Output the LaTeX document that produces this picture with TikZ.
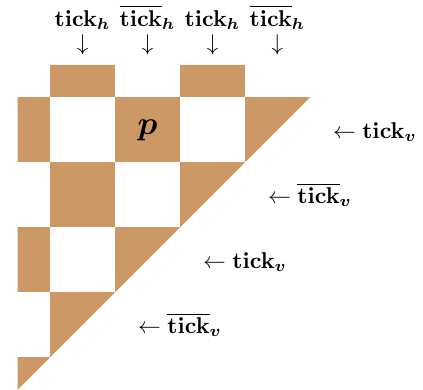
\documentclass[tikz,border=0pt]{standalone}
\usepackage{amsmath,amssymb}
\usetikzlibrary{positioning}
\definecolor{tile}{RGB}{204,153,102}

\begin{document}
\begin{tikzpicture}[
    ticklabel/.style={anchor=base,inner sep=0pt},
  ]
  \useasboundingbox (-0.77,-4.49) rectangle (5.74,1.5);

  % Checkerboard, cut to the triangle
  \begin{scope}
    \clip (-0.5,0.5) -- (4,0.5) -- (4,0) -- (-0.5,-4.5) -- cycle;
    \foreach \j in {0,...,5}
      \foreach \i in {0,2,4}
        \fill[tile] ({\i-mod(\j,2)},{-\j}) rectangle ++(1,1);
  \end{scope}

  \node[font=\Large] (p) at (1.5,-0.5) {$\boldsymbol{p}$};

  % Horizontal ticks
  \foreach \x/\txt [count=\k] in {0.5/\mathbf{tick}_{\boldsymbol{h}}, 1.5/\overline{\mathbf{tick}}_{\boldsymbol{h}},
                                  2.5/\mathbf{tick}_{\boldsymbol{h}}, 3.5/\overline{\mathbf{tick}}_{\boldsymbol{h}}}
  {
    \node[ticklabel] (th\k) at (\x,1.1) {$\txt$};
    \node[ticklabel] (ah\k) at (\x,0.72) {$\downarrow$};
  }

  % Vertical ticks
  \foreach \j/\txt in {1/\mathbf{tick}_{\boldsymbol{v}}, 2/\overline{\mathbf{tick}}_{\boldsymbol{v}},
                       3/\mathbf{tick}_{\boldsymbol{v}}, 4/\overline{\mathbf{tick}}_{\boldsymbol{v}}}
    \node[ticklabel] (tv\j) at ({6-\j},{0.37-\j}) {$\leftarrow \txt$};
\end{tikzpicture}
\end{document}
